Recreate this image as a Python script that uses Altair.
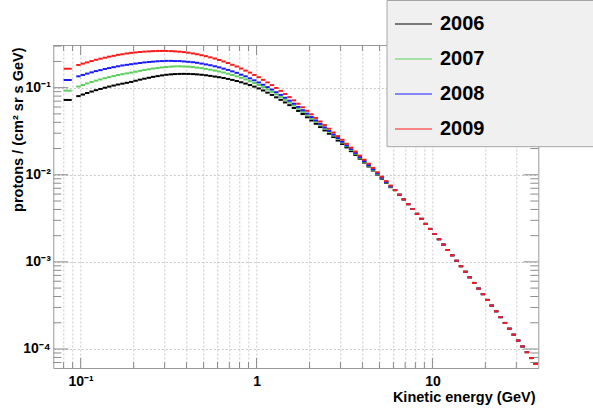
import altair as alt
import pandas as pd

# ---------------- data ----------------
years = ["2006", "2007", "2008", "2009"]
colors = ["#000000", "#5ccf5c", "#1a1aff", "#ff1a1a"]

# first (wider) bin, then regular log bins (edges, GeV)
first_bin = [0.080, 0.089]
edges = [
    0.09441, 0.1, 0.1059, 0.1122, 0.1189, 0.1259, 0.1334, 0.1413, 0.1496, 0.1585,
    0.1679, 0.1778, 0.1884, 0.1995, 0.2113, 0.2239, 0.2371, 0.2512, 0.2661, 0.2818,
    0.2985, 0.3162, 0.3350, 0.3548, 0.3758, 0.3981, 0.4217, 0.4467, 0.4732, 0.5012,
    0.5309, 0.5623, 0.5957, 0.6310, 0.6683, 0.7079, 0.7499, 0.7943, 0.8414, 0.8913,
    0.9441,
    1.0, 1.059, 1.122, 1.189, 1.259, 1.334, 1.413, 1.496, 1.585, 1.679,
    1.778, 1.884, 1.995, 2.113, 2.239, 2.371, 2.512, 2.661, 2.818, 2.985,
    3.162, 3.350, 3.548, 3.758, 3.981, 4.217, 4.467, 4.732, 5.012, 5.309,
    5.623, 5.957, 6.310, 6.683, 7.079, 7.499, 7.943, 8.414, 8.913, 9.441,
    10.0, 10.59, 11.22, 11.89, 12.59, 13.34, 14.13, 14.96, 15.85, 16.79,
    17.78, 18.84, 19.95, 21.13, 22.39, 23.71, 25.12, 26.61, 28.18, 29.85,
    31.62, 33.50, 35.48, 37.58, 39.81,
]

flux_2006 = [
    0.0723,
    0.0800, 0.0834, 0.0868, 0.0903, 0.0936, 0.0967, 0.0999, 0.1029, 0.1058, 0.1087,
    0.1112, 0.1137, 0.1165, 0.1201, 0.1236, 0.1268, 0.1299, 0.1331, 0.1358, 0.1383,
    0.1406, 0.1422, 0.1433, 0.1439, 0.1441, 0.1439, 0.1432, 0.1421, 0.1407, 0.1388,
    0.1366, 0.1342, 0.1319, 0.1292, 0.1261, 0.1228, 0.1192, 0.1154, 0.1114, 0.1072,
    0.1028, 0.0980, 0.0929, 0.0877, 0.0826, 0.0775, 0.0725, 0.0677, 0.0630, 0.0584,
    0.0541, 0.0498, 0.0457, 0.0420, 0.0385, 0.0353, 0.0323, 0.0296, 0.0271, 0.0247,
    0.0226, 0.0206, 0.01866, 0.0169, 0.01529, 0.0138, 0.01244, 0.01119, 0.01005,
    0.00901, 0.00807, 0.00720,
]
flux_2007 = [
    0.0925,
    0.1030, 0.1074, 0.1118, 0.1161, 0.1204, 0.1244, 0.1285, 0.1323, 0.1359, 0.1397,
    0.1428, 0.1460, 0.1490, 0.1523, 0.1560, 0.1595, 0.1626, 0.1658, 0.1684, 0.1709,
    0.1729, 0.1745, 0.1756, 0.1758, 0.1751, 0.1740, 0.1723, 0.1701, 0.1675, 0.1644,
    0.1608, 0.1572, 0.1533, 0.1492, 0.1447, 0.1399, 0.1349, 0.1297, 0.1243, 0.1188,
    0.1132, 0.1073, 0.1013, 0.0953, 0.0894, 0.0837, 0.0780, 0.0726, 0.0673, 0.0622,
    0.0573, 0.0526, 0.0483, 0.0442, 0.0405, 0.0370, 0.0338, 0.0309, 0.0282, 0.0257,
    0.0234, 0.0213, 0.01925, 0.0174, 0.0157, 0.01415, 0.01272, 0.01142, 0.01023,
    0.00915, 0.00817, 0.00728,
]
flux_2008 = [
    0.1225,
    0.135, 0.140, 0.145, 0.150, 0.155, 0.159, 0.164, 0.168, 0.172, 0.176,
    0.180, 0.183, 0.186, 0.189, 0.192, 0.195, 0.197, 0.199, 0.201, 0.202,
    0.203, 0.203, 0.202, 0.202, 0.200, 0.198, 0.196, 0.193, 0.189, 0.185,
    0.181, 0.176, 0.171, 0.1655, 0.160, 0.154, 0.148, 0.141, 0.135, 0.128,
    0.1215, 0.1148, 0.1081, 0.1015, 0.0951, 0.0887, 0.0826, 0.0766, 0.0709, 0.0654,
    0.0601, 0.0551, 0.0504, 0.0460, 0.0421, 0.0384, 0.0350, 0.0319, 0.0290, 0.0264,
    0.0240, 0.0217, 0.0197, 0.01776, 0.0160, 0.0144, 0.01293, 0.0116, 0.01038,
    0.00927, 0.00827, 0.00736,
]
flux_2009 = [
    0.165,
    0.182, 0.189, 0.195, 0.202, 0.209, 0.215, 0.221, 0.227, 0.232, 0.238,
    0.242, 0.247, 0.251, 0.254, 0.257, 0.259, 0.261, 0.263, 0.264, 0.264,
    0.264, 0.263, 0.261, 0.259, 0.256, 0.252, 0.247, 0.242, 0.236, 0.230,
    0.223, 0.216, 0.208, 0.200, 0.192, 0.183, 0.175, 0.166, 0.157, 0.149,
    0.140, 0.132, 0.123, 0.115, 0.107, 0.0993, 0.0919, 0.0847, 0.0779, 0.0715,
    0.0654, 0.0596, 0.0543, 0.0495, 0.0450, 0.0409, 0.0372, 0.0338, 0.0306, 0.0278,
    0.0252, 0.0227, 0.0205, 0.0185, 0.0166, 0.0149, 0.0134, 0.0120, 0.0107,
    0.00952, 0.00847, 0.00752,
]
# above ~6 GeV the four years coincide
flux_tail = [
    0.00667, 0.00590, 0.00522, 0.00460, 0.00405, 0.00356, 0.00312, 0.00273, 0.00239,
    0.00209, 0.00182, 0.00158, 0.00137, 0.00119, 0.00103, 0.000892, 0.000770,
    0.000665, 0.000573, 0.000494, 0.000426, 0.000366, 0.000315, 0.000271, 0.000232,
    0.000199, 0.000171, 0.000146, 0.000125, 0.000107, 0.0000920, 0.0000787, 0.0000674,
]

x_grid_vals = [0.08, 0.09, 0.1, 0.2, 0.3, 0.4, 0.5, 0.6, 0.7, 0.8, 0.9,
               1, 2, 3, 4, 5, 6, 7, 8, 9, 10, 20, 30]
x_major = [0.1, 1, 10]
x_minor = [0.08, 0.09, 0.2, 0.3, 0.4, 0.5, 0.6, 0.7, 0.8, 0.9,
           2, 3, 4, 5, 6, 7, 8, 9, 20, 30]
y_major = [1e-4, 1e-3, 1e-2, 1e-1]
y_minor = [7e-5, 8e-5, 9e-5,
           2e-4, 3e-4, 4e-4, 5e-4, 6e-4, 7e-4, 8e-4, 9e-4,
           2e-3, 3e-3, 4e-3, 5e-3, 6e-3, 7e-3, 8e-3, 9e-3,
           2e-2, 3e-2, 4e-2, 5e-2, 6e-2, 7e-2, 8e-2, 9e-2,
           0.2, 0.3]

# ---------------- build table ----------------
bin_lo = [first_bin[0]] + edges[:-1]
bin_hi = [first_bin[1]] + edges[1:]
rows = []
for yr, own in zip(years, [flux_2006, flux_2007, flux_2008, flux_2009]):
    vals = own + flux_tail
    for lo, hi, v in zip(bin_lo, bin_hi, vals):
        rows.append({"year": yr, "lo": lo, "hi": hi, "flux": v})
df = pd.DataFrame(rows)

W, H = 485, 323
FONT = "Liberation Sans"
TICK = "#8c8c8c"

x_scale = alt.Scale(type="log", domain=[0.0699, 40.0], nice=False)
y_scale = alt.Scale(type="log", domain=[6.05e-5, 0.309], nice=False)

x_axis = alt.Axis(
    values=x_grid_vals,
    labelExpr="datum.value == 0.1 ? '10⁻¹' : datum.value == 1 ? '1' : datum.value == 10 ? '10' : ''",
    grid=True, ticks=False, domain=False, tickSize=0,
    labelFont=FONT, labelFontSize=14, labelFontWeight="bold", labelColor="black",
    labelPadding=17, labelBaseline="alphabetic", labelOverlap=False, labelFlush=False,
    title="Kinetic energy (GeV)", titleX=481.7, titleY=33, titleAlign="right",
    titleAnchor="end", titleBaseline="alphabetic", titleFont=FONT, titleFontSize=14.5,
    titleFontWeight="bold", titleColor="black",
)
y_axis = alt.Axis(
    values=y_major,
    labelExpr="datum.value > 0.05 ? '10⁻¹' : datum.value > 0.005 ? '10⁻²' : datum.value > 0.0005 ? '10⁻³' : '10⁻⁴'",
    grid=True, ticks=False, domain=False, tickSize=0,
    labelFont=FONT, labelFontSize=14, labelFontWeight="bold", labelColor="black",
    labelPadding=3, labelOverlap=False, labelFlush=False,
    title="protons / (cm² sr s GeV)", titleAngle=270, titleX=-30.5, titleY=2,
    titleAlign="right", titleBaseline="alphabetic", titleFont=FONT, titleFontSize=14.5,
    titleFontWeight="bold", titleColor="black",
)

def xticks(vals, length):
    d = pd.DataFrame({"t": vals})
    base = alt.Chart(d).mark_rule(color=TICK, strokeWidth=1)
    bottom = base.encode(x=alt.X("t:Q", scale=x_scale, axis=x_axis),
                         y=alt.value(H), y2=alt.value(H - length))
    top = base.encode(x=alt.X("t:Q", scale=x_scale, axis=x_axis),
                      y=alt.value(0), y2=alt.value(length))
    return [bottom, top]

def yticks(vals, length):
    d = pd.DataFrame({"t": vals})
    base = alt.Chart(d).mark_rule(color=TICK, strokeWidth=1)
    left = base.encode(y=alt.Y("t:Q", scale=y_scale, axis=y_axis),
                       x=alt.value(0), x2=alt.value(length))
    right = base.encode(y=alt.Y("t:Q", scale=y_scale, axis=y_axis),
                        x=alt.value(W), x2=alt.value(W - length))
    return [left, right]

tick_layers = xticks(x_major, 10) + xticks(x_minor, 6) + yticks(y_major, 15) + yticks(y_minor, 8)

data_layer = alt.Chart(df).mark_rule(strokeWidth=2).encode(
    x=alt.X("lo:Q", scale=x_scale, axis=x_axis),
    x2="hi:Q",
    y=alt.Y("flux:Q", scale=y_scale, axis=y_axis),
    color=alt.Color(
        "year:N",
        scale=alt.Scale(domain=years, range=colors),
        legend=alt.Legend(
            orient="none", legendX=341.2, legendY=-40, title=None,
            symbolType="stroke", symbolSize=1369, symbolStrokeWidth=1,
            labelFont=FONT, labelFontSize=20, labelFontWeight="bold", labelColor="black",
            labelOffset=7.5, rowPadding=6, padding=0,
        ),
    ),
)

legend_box = alt.Chart(pd.DataFrame({"a": [0]})).mark_rect(
    fill="#f0f0f0", stroke="#a6a6a6", strokeWidth=1
).encode(
    x=alt.value(333.7), x2=alt.value(560), y=alt.value(-44.5), y2=alt.value(101.7)
)

chart = alt.layer(*tick_layers, data_layer, legend_box).properties(
    width=W, height=H,
    padding={"left": 53.3, "top": 45, "right": 54.7, "bottom": 40},
    autosize=alt.AutoSizeParams(type="none"),
    background="white",
).configure_view(
    stroke="#999999", strokeWidth=1
).configure_axis(
    gridColor="#c8c8c8", gridDash=[2, 2], gridWidth=1
)

chart.save("out.html", embed_options={"renderer": "svg", "actions": False})
